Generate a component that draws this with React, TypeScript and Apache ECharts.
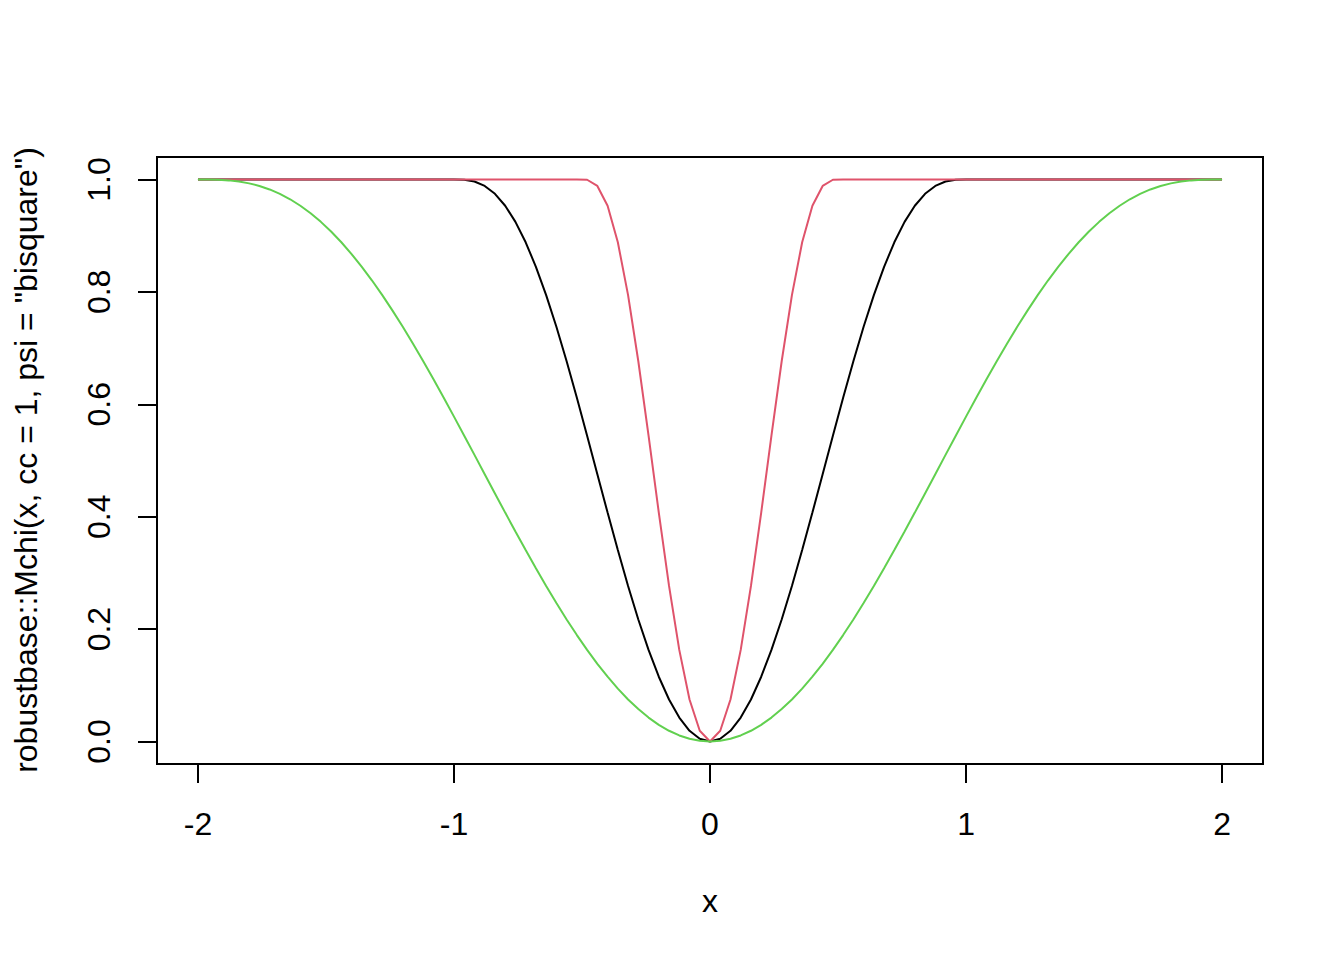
import React, { useEffect, useRef } from "react";
import * as echarts from "echarts";

const xValues = [
  -2, -1.96, -1.92, -1.88, -1.84, -1.8, -1.76, -1.72, -1.68, -1.64,
  -1.6, -1.56, -1.52, -1.48, -1.44, -1.4, -1.36, -1.32, -1.28, -1.24,
  -1.2, -1.16, -1.12, -1.08, -1.04, -1, -0.96, -0.92, -0.88, -0.84,
  -0.8, -0.76, -0.72, -0.68, -0.64, -0.6, -0.56, -0.52, -0.48, -0.44,
  -0.4, -0.36, -0.32, -0.28, -0.24, -0.2, -0.16, -0.12, -0.08, -0.04,
  0,
  0.04, 0.08, 0.12, 0.16, 0.2, 0.24, 0.28, 0.32, 0.36, 0.4,
  0.44, 0.48, 0.52, 0.56, 0.6, 0.64, 0.68, 0.72, 0.76, 0.8,
  0.84, 0.88, 0.92, 0.96, 1, 1.04, 1.08, 1.12, 1.16, 1.2,
  1.24, 1.28, 1.32, 1.36, 1.4, 1.44, 1.48, 1.52, 1.56, 1.6,
  1.64, 1.68, 1.72, 1.76, 1.8, 1.84, 1.88, 1.92, 1.96, 2,
];

// cc = 1 (black)
const chiCc1 = [
  1, 1, 1, 1, 1, 1, 1, 1, 1, 1,
  1, 1, 1, 1, 1, 1, 1, 1, 1, 1,
  1, 1, 1, 1, 1, 1, 0.9995, 0.9964, 0.9885, 0.9745,
  0.9533, 0.9246, 0.8883, 0.8446, 0.7942, 0.7379, 0.6766, 0.6116, 0.5442, 0.4756,
  0.4073, 0.3406, 0.2768, 0.2172, 0.163, 0.1153, 0.0748, 0.0426, 0.0191, 0.0048,
  0,
  0.0048, 0.0191, 0.0426, 0.0748, 0.1153, 0.163, 0.2172, 0.2768, 0.3406, 0.4073,
  0.4756, 0.5442, 0.6116, 0.6766, 0.7379, 0.7942, 0.8446, 0.8883, 0.9246, 0.9533,
  0.9745, 0.9885, 0.9964, 0.9995, 1, 1, 1, 1, 1, 1,
  1, 1, 1, 1, 1, 1, 1, 1, 1, 1,
  1, 1, 1, 1, 1, 1, 1, 1, 1, 1,
];

// cc = 0.5 (red)
const chiCc05 = [
  1, 1, 1, 1, 1, 1, 1, 1, 1, 1,
  1, 1, 1, 1, 1, 1, 1, 1, 1, 1,
  1, 1, 1, 1, 1, 1, 1, 1, 1, 1,
  1, 1, 1, 1, 1, 1, 1, 1, 0.9995, 0.9885,
  0.9533, 0.8883, 0.7942, 0.6766, 0.5442, 0.4073, 0.2768, 0.163, 0.0748, 0.0191,
  0,
  0.0191, 0.0748, 0.163, 0.2768, 0.4073, 0.5442, 0.6766, 0.7942, 0.8883, 0.9533,
  0.9885, 0.9995, 1, 1, 1, 1, 1, 1, 1, 1,
  1, 1, 1, 1, 1, 1, 1, 1, 1, 1,
  1, 1, 1, 1, 1, 1, 1, 1, 1, 1,
  1, 1, 1, 1, 1, 1, 1, 1, 1, 1,
];

// cc = 2 (green)
const chiCc2 = [
  1, 0.9999, 0.9995, 0.9984, 0.9964, 0.9931, 0.9885, 0.9823, 0.9745, 0.9648,
  0.9533, 0.94, 0.9246, 0.9074, 0.8883, 0.8673, 0.8446, 0.8202, 0.7942, 0.7667,
  0.7379, 0.7078, 0.6766, 0.6445, 0.6116, 0.5781, 0.5442, 0.51, 0.4756, 0.4413,
  0.4073, 0.3737, 0.3406, 0.3083, 0.2768, 0.2464, 0.2172, 0.1894, 0.163, 0.1383,
  0.1153, 0.0941, 0.0748, 0.0577, 0.0426, 0.0297, 0.0191, 0.0108, 0.0048, 0.0012,
  0,
  0.0012, 0.0048, 0.0108, 0.0191, 0.0297, 0.0426, 0.0577, 0.0748, 0.0941, 0.1153,
  0.1383, 0.163, 0.1894, 0.2172, 0.2464, 0.2768, 0.3083, 0.3406, 0.3737, 0.4073,
  0.4413, 0.4756, 0.51, 0.5442, 0.5781, 0.6116, 0.6445, 0.6766, 0.7078, 0.7379,
  0.7667, 0.7942, 0.8202, 0.8446, 0.8673, 0.8883, 0.9074, 0.9246, 0.94, 0.9533,
  0.9648, 0.9745, 0.9823, 0.9885, 0.9931, 0.9964, 0.9984, 0.9995, 0.9999, 1,
];

const xTicks = [-2, -1, 0, 1, 2];
const yTicks = [0, 0.2, 0.4, 0.6, 0.8, 1.0];

const seriesDefs = [
  { name: "cc = 1", values: chiCc1, color: "#000000" },
  { name: "cc = 0.5", values: chiCc05, color: "#DF536B" },
  { name: "cc = 2", values: chiCc2, color: "#61D04F" },
];

const FONT = "'Liberation Sans', Arial, Helvetica, sans-serif";

export default function App() {
  const ref = useRef<HTMLDivElement>(null);

  useEffect(() => {
    if (!ref.current) return;
    const chart = echarts.init(ref.current, null, { renderer: "svg" });
    chart.setOption({
      animation: false,
      backgroundColor: "#ffffff",
      grid: {
        show: true,
        left: 157,
        top: 157,
        width: 1106,
        height: 607,
        borderColor: "#000000",
        borderWidth: 2,
        backgroundColor: "transparent",
      },
      xAxis: {
        type: "value",
        min: -2.16,
        max: 2.16,
        position: "bottom",
        axisLine: { show: false, onZero: false },
        splitLine: { show: false },
        axisTick: {
          show: true,
          inside: false,
          length: 19,
          customValues: xTicks,
          lineStyle: { color: "#000000", width: 2 },
        },
        axisLabel: {
          customValues: xTicks,
          color: "#000000",
          fontSize: 32,
          fontFamily: FONT,
          margin: 44,
          lineHeight: 32,
          formatter: (v: number) => String(v),
        },
      },
      yAxis: {
        type: "value",
        min: -0.04,
        max: 1.04,
        position: "left",
        axisLine: { show: false, onZero: false },
        splitLine: { show: false },
        axisTick: {
          show: true,
          inside: false,
          length: 19,
          customValues: yTicks,
          lineStyle: { color: "#000000", width: 2 },
        },
        axisLabel: {
          customValues: yTicks,
          rotate: 90,
          color: "#000000",
          fontSize: 32,
          fontFamily: FONT,
          margin: 42,
          lineHeight: 32,
          formatter: (v: number) => v.toFixed(1),
        },
      },
      graphic: [
        {
          type: "text",
          x: 710,
          y: 901,
          style: {
            text: "x",
            fontSize: 32,
            fontFamily: FONT,
            fill: "#000000",
            align: "center",
            verticalAlign: "middle",
          },
        },
        {
          type: "text",
          x: 26,
          y: 460,
          rotation: Math.PI / 2,
          style: {
            text: 'robustbase::Mchi(x, cc = 1, psi = "bisquare")',
            fontSize: 32,
            fontFamily: FONT,
            fill: "#000000",
            align: "center",
            verticalAlign: "middle",
          },
        },
      ],
      series: seriesDefs.map((s) => ({
        name: s.name,
        type: "line",
        data: xValues.map((x, i) => [x, s.values[i]]),
        symbol: "none",
        smooth: false,
        lineStyle: { color: s.color, width: 2 },
        itemStyle: { color: s.color },
      })),
    });
    return () => chart.dispose();
  }, []);

  return (
    <div
      ref={ref}
      style={{ position: "fixed", left: 0, top: 0, width: 1344, height: 960 }}
    />
  );
}
